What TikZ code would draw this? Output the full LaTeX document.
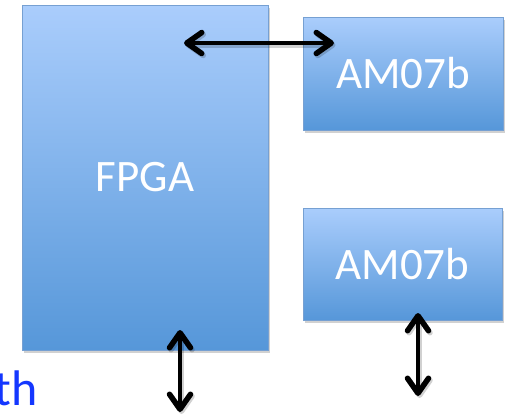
\documentclass[tikz,border=0pt]{standalone}
\usepackage{fontspec}
\setmainfont{Carlito}
\usetikzlibrary{arrows.meta,shadows}
\definecolor{boxtop}{RGB}{170,205,252}
\definecolor{boxbot}{RGB}{86,151,217}
\definecolor{boxline}{RGB}{118,160,210}
\definecolor{labelblue}{RGB}{20,55,255}
\begin{document}
\begin{tikzpicture}[x=1pt,y=-1pt,
  block/.style={rectangle, draw=boxline, line width=0.8pt,
    top color=boxtop, bottom color=boxbot, inner sep=0pt,
    drop shadow={shadow xshift=2pt, shadow yshift=-3pt, opacity=0.3, fill=black!60},
    text=white, font=\fontsize{45}{52}\selectfont},
  barb/.tip={Straight Barb[round,length=15pt,width=21pt,line width=5.5pt]},
  link/.style={line width=4.2pt, line cap=round, barb-barb,
    preaction={draw=black, opacity=0.18, line width=5pt,
      transform canvas={shift={(1.5pt,-2pt)}}}}]
\useasboundingbox (0,0) rectangle (510,416);

% blocks
\node[block, minimum width=246pt, minimum height=345pt] (fpga) at (145,177.5) {FPGA};
\node[block, minimum width=200pt, minimum height=113pt] (amA) at (403,73.5) {\raisebox{-3pt}{AM07b}};
\node[block, minimum width=199pt, minimum height=112pt] (amB) at (402.5,264) {AM07b};

% connector end points
\coordinate (h1) at (184,43);
\coordinate (h2) at (334,43);
\coordinate (v1a) at (180,330);
\coordinate (v1b) at (180,412);
\coordinate (v2a) at (418,313);
\coordinate (v2b) at (418,396);

% links
\draw[link] (h1) -- (h2);
\draw[link] (v1a) -- (v1b);
\draw[link] (v2a) -- (v2b);

% partly visible caption
\node[anchor=base east, inner sep=0pt, text=labelblue, font=\fontsize{50}{58}\selectfont] (cap) at (38,405) {th};
\end{tikzpicture}
\end{document}
